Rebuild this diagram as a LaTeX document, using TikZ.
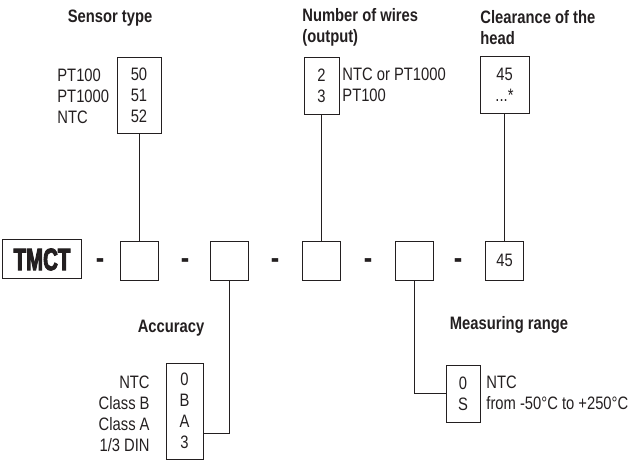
\documentclass[tikz,border=0pt]{standalone}
\usepackage{fontspec}
\setmainfont[FakeStretch=0.82]{Liberation Sans}
\newfontfamily\tmctfont[FakeStretch=0.66,FakeBold=3]{Liberation Sans Bold}
\usepackage{tikz}
\usetikzlibrary{calc}
\definecolor{ink}{HTML}{231F20}

\begin{document}
\begin{tikzpicture}[x=1bp, y=-1bp, ink, line width=0.8bp,
  box/.style={draw, inner sep=0pt, align=center, font=\fontsize{18bp}{21bp}\selectfont},
  cell/.style={box, minimum width=38bp, minimum height=39bp},
  lbl/.style={inner sep=0pt, font=\fontsize{18bp}{21bp}\selectfont},
  head/.style={inner sep=0pt, align=left, font=\fontsize{18bp}{21bp}\selectfont\bfseries},
  sep/.style={inner sep=0pt, font=\fontsize{31bp}{31bp}\selectfont\bfseries}]
\useasboundingbox (0,0) rectangle (637,462);

\node [draw, line width=1bp, inner sep=0pt, minimum width=78bp, minimum height=39bp, name=tmct] at (42,259.5)
  {\fontsize{31bp}{31bp}\tmctfont TMCT};
\node [cell, name=b2] at (139,260.5) {};
\node [cell, name=b3] at (229,260.5) {};
\node [cell, name=b4] at (321.5,260.5) {};
\node [cell, name=b5] at (414.5,260.5) {};
\node [cell, name=b6] at (504.5,260.5) {45};
\foreach \x/\n in {100/1,185/2,275/3,368/4,458/5}
  \node [sep, name=d\n] at (\x,264) {-};

\node [head, name=tsens] at (110,18) {Sensor type};
\node [box, minimum width=44bp, minimum height=76bp, name=sens] at (139,95) {50\\51\\52};
\node [lbl, align=left, anchor=west, name=lsens] at (57,96) {PT100\\PT1000\\NTC};

\node [head, anchor=west, name=twire] at (302,27.5) {Number of wires\\(output)};
\node [box, minimum width=35bp, minimum height=57bp, name=wire] at (321.5,85.5) {2\\3};
\node [lbl, align=left, anchor=west, name=lwire] at (342,84.5) {NTC or PT1000\\PT100};

\node [head, anchor=west, name=thead] at (480,27.5) {Clearance of the\\head};
\node [box, minimum width=49bp, minimum height=57bp, name=clear] at (504.5,84.5) {45\\...*};

\node [head, name=tacc] at (171,328) {Accuracy};
\node [box, minimum width=37bp, minimum height=96bp, name=acc] at (184.5,411) {0\\B\\A\\3};
\node [lbl, align=right, anchor=east, name=lacc] at (150,414) {NTC\\Class B\\Class A\\1/3 DIN};

\node [head, name=tmeas] at (509,325) {Measuring range};
\node [box, minimum width=34bp, minimum height=57bp, name=meas] at (463,393.5) {0\\S};
\node [lbl, align=left, anchor=west, name=lmeas] at (486,392.5) {NTC\\from -50°C to +250°C};

\coordinate (accin) at ([yshift=-22bp]acc.east);
\draw (sens.south) -- (b2.north);
\draw (wire.south) -- (b4.north);
\draw (clear.south) -- (b6.north);
\draw (b3.south) |- (accin);
\draw (b5.south) |- (meas.west);
\end{tikzpicture}
\end{document}
